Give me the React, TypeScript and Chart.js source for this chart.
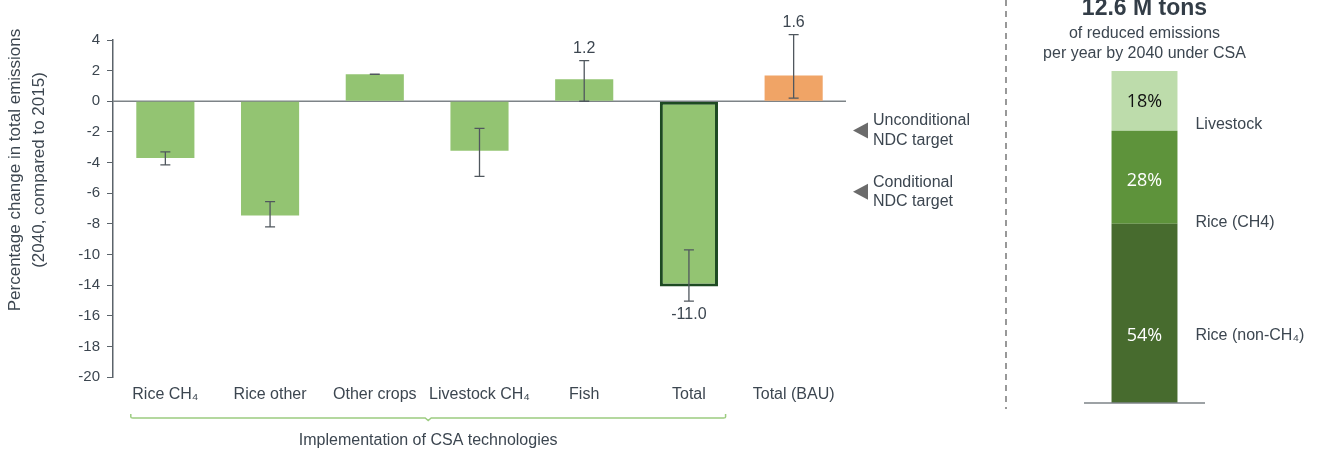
import React, { useEffect, useRef } from 'react';
import { Chart, registerables } from 'chart.js';

Chart.register(...registerables);

// ---------- data ----------
const categories = ['Rice CH₄', 'Rice other', 'Other crops', 'Livestock CH₄', 'Fish', 'Total', 'Total (BAU)'];
const values = [-3.7, -7.45, 1.77, -3.23, 1.43, -12.1, 1.69];
const errorHigh = [-3.3, -6.55, 1.77, -1.77, 2.65, -9.7, 4.35];
const errorLow = [-4.15, -8.2, 1.75, -4.9, 0.0, -13.05, 0.2];
const valueLabels = ['', '', '', '', '1.2', '-11.0', '1.6'];
const yTickLabels = ['-20', '-18', '-16', '-14', '-10', '-8', '-6', '-4', '-2', '0', '2', '4'];
const ndcTargetValues = [-1.9, -5.9];
const ndcTargetLabels = [['Unconditional', 'NDC target'], ['Conditional', 'NDC target']];
const bracketLabel = 'Implementation of CSA technologies';
const bracketFirst = 0;
const bracketLast = 5;
const yAxisTitle = ['Percentage change in total emissions', '(2040, compared to 2015)'];

const shareSegments = ['Rice (non-CH₄)', 'Rice (CH4)', 'Livestock'];
const shareValues = [54, 28, 18];
const shareTitle = '12.6 M tons';
const shareSubtitle = ['of reduced emissions', 'per year by 2040 under CSA'];

// ---------- styles ----------
const FONT = '"Liberation Sans", Arial, Helvetica, sans-serif';
const TEXT = '#3c4650';
const AXIS = '#5b636a';
const GREEN = '#93c472';
const ORANGE = '#f0a466';
const TOTAL_BORDER = '#1d4a22';
const ERR = '#50575e';
const shareColors = ['#476b2e', '#5e933b', '#bddcab'];
const shareTextColors = ['#ffffff', '#ffffff', '#111111'];
const pctPos = [0.625, 0.54, 0.51];
const namePos = [0.625, 0.99, 0.9];

export default function App() {
  const leftRef = useRef<HTMLCanvasElement | null>(null);
  const rightRef = useRef<HTMLCanvasElement | null>(null);

  useEffect(() => {
    if (!leftRef.current || !rightRef.current) return;

    const leftPlugin = {
      id: 'leftDecor',
      beforeDatasetsDraw(chart: any) {
        const { ctx, chartArea, scales } = chart;
        const y0 = scales.y.getPixelForValue(0);
        ctx.save();
        ctx.strokeStyle = '#7d8387';
        ctx.lineWidth = 1.5;
        ctx.beginPath();
        ctx.moveTo(chartArea.left, y0);
        ctx.lineTo(chartArea.right, y0);
        ctx.stroke();
        ctx.restore();
      },
      afterDatasetsDraw(chart: any) {
        const { ctx, chartArea, scales } = chart;
        const ys = scales.y;
        const xs = scales.x;
        const meta = chart.getDatasetMeta(0);
        ctx.save();
        // error bars
        ctx.strokeStyle = ERR;
        ctx.lineWidth = 1.3;
        meta.data.forEach((bar: any, i: number) => {
          const x = bar.x;
          const yh = ys.getPixelForValue(errorHigh[i]);
          const yl = ys.getPixelForValue(errorLow[i]);
          ctx.beginPath();
          ctx.moveTo(x, yh);
          ctx.lineTo(x, yl);
          ctx.moveTo(x - 5, yh);
          ctx.lineTo(x + 5, yh);
          ctx.moveTo(x - 5, yl);
          ctx.lineTo(x + 5, yl);
          ctx.stroke();
        });
        // value labels
        ctx.fillStyle = TEXT;
        ctx.font = `16px ${FONT}`;
        ctx.textAlign = 'center';
        ctx.textBaseline = 'middle';
        meta.data.forEach((bar: any, i: number) => {
          if (!valueLabels[i]) return;
          if (values[i] >= 0) {
            ctx.fillText(valueLabels[i], bar.x, ys.getPixelForValue(errorHigh[i]) - 12);
          } else {
            ctx.fillText(valueLabels[i], bar.x, ys.getPixelForValue(errorLow[i]) + 13);
          }
        });
        // NDC targets
        ndcTargetValues.forEach((v, i) => {
          const y = ys.getPixelForValue(v);
          const tx = chartArea.right + 7;
          ctx.fillStyle = '#6b6b6b';
          ctx.beginPath();
          ctx.moveTo(tx + 15, y - 8);
          ctx.lineTo(tx + 15, y + 8);
          ctx.lineTo(tx, y);
          ctx.closePath();
          ctx.fill();
          ctx.fillStyle = TEXT;
          ctx.textAlign = 'left';
          ctx.fillText(ndcTargetLabels[i][0], tx + 20, y - 9.5);
          ctx.fillText(ndcTargetLabels[i][1], tx + 20, y + 10);
        });
        // bracket
        const cw = xs.getPixelForValue(1) - xs.getPixelForValue(0);
        const bl = xs.getPixelForValue(bracketFirst) - cw * 0.33;
        const br = xs.getPixelForValue(bracketLast) + cw * 0.35;
        const bm = (bl + br) / 2;
        const by = chartArea.bottom + 41;
        ctx.strokeStyle = '#9ccc80';
        ctx.lineWidth = 1.5;
        ctx.beginPath();
        ctx.moveTo(bl, by - 4);
        ctx.lineTo(bl, by - 1);
        ctx.quadraticCurveTo(bl, by, bl + 2, by);
        ctx.lineTo(bm - 3, by);
        ctx.lineTo(bm, by + 2.5);
        ctx.lineTo(bm + 3, by);
        ctx.lineTo(br - 2, by);
        ctx.quadraticCurveTo(br, by, br, by - 1);
        ctx.lineTo(br, by - 4);
        ctx.stroke();
        ctx.fillStyle = TEXT;
        ctx.textAlign = 'center';
        ctx.fillText(bracketLabel, bm, by + 23);
        // y axis title
        ctx.font = `17px ${FONT}`;
        ctx.translate(15, 170);
        ctx.rotate(-Math.PI / 2);
        ctx.fillText(yAxisTitle[0], 0, 0);
        ctx.fillText(yAxisTitle[1], 0, 24);
        ctx.setTransform(1, 0, 0, 1, 0, 0);
        // divider
        ctx.strokeStyle = '#555555';
        ctx.lineWidth = 1.2;
        ctx.setLineDash([6, 5]);
        ctx.beginPath();
        ctx.moveTo(1006, 0);
        ctx.lineTo(1006, 409);
        ctx.stroke();
        ctx.restore();
      },
    };

    const left = new Chart(leftRef.current, {
      type: 'bar',
      data: {
        labels: categories,
        datasets: [
          {
            data: values,
            backgroundColor: values.map((_, i) => (i === categories.length - 1 ? ORANGE : GREEN)),
            borderColor: values.map((_, i) => (i === 5 ? TOTAL_BORDER : 'rgba(0,0,0,0)')),
            borderWidth: values.map((_, i) => (i === 5 ? 3 : 0)),
            borderSkipped: false,
            categoryPercentage: 1,
            barPercentage: 0.555,
          },
        ],
      },
      options: {
        animation: false,
        responsive: false,
        maintainAspectRatio: false,
        layout: { padding: { left: 53, right: 164, top: 40, bottom: 41 } },
        plugins: { legend: { display: false }, tooltip: { enabled: false } },
        scales: {
          x: {
            grid: { display: false, drawTicks: false },
            border: { display: false },
            ticks: {
              color: TEXT,
              font: { family: FONT, size: 16 },
              padding: 8,
              maxRotation: 0,
              autoSkip: false,
            },
            afterFit: (s: any) => {
              s.height = 40;
            },
          },
          y: {
            min: -18,
            max: 4,
            ticks: {
              stepSize: 2,
              callback: (_v: any, i: number) => yTickLabels[i],
              color: TEXT,
              font: { family: FONT, size: 15 },
              padding: 7,
            },
            grid: { drawOnChartArea: false, drawTicks: true, tickLength: 6, color: AXIS, lineWidth: 1 },
            border: { display: true, color: AXIS, width: 1.5 },
            afterFit: (s: any) => {
              s.width = 60;
            },
          },
        },
      } as any,
      plugins: [leftPlugin],
    });

    const rightPlugin = {
      id: 'rightDecor',
      afterDatasetsDraw(chart: any) {
        const { ctx, chartArea } = chart;
        ctx.save();
        // base line
        ctx.strokeStyle = '#7d8387';
        ctx.lineWidth = 1.5;
        ctx.beginPath();
        ctx.moveTo(chartArea.left, chartArea.bottom);
        ctx.lineTo(chartArea.right, chartArea.bottom);
        ctx.stroke();
        let cx = 0;
        shareSegments.forEach((name, i) => {
          const el = chart.getDatasetMeta(i).data[0];
          const top = Math.min(el.y, el.base);
          const bot = Math.max(el.y, el.base);
          const h = bot - top;
          cx = el.x;
          ctx.textBaseline = 'middle';
          ctx.textAlign = 'center';
          ctx.fillStyle = shareTextColors[i];
          ctx.font = `18px "Open Sans", Lato, sans-serif`;
          ctx.fillText(`${shareValues[i]}%`, el.x, top + h * pctPos[i]);
          ctx.textAlign = 'left';
          ctx.fillStyle = TEXT;
          ctx.font = `16px ${FONT}`;
          ctx.fillText(name, el.x + el.width / 2 + 18, top + h * namePos[i]);
        });
        // title
        ctx.textAlign = 'center';
        ctx.textBaseline = 'alphabetic';
        ctx.fillStyle = '#333d47';
        ctx.font = `bold 23px ${FONT}`;
        ctx.fillText(shareTitle, cx, 15);
        ctx.fillStyle = TEXT;
        ctx.font = `16px ${FONT}`;
        ctx.textBaseline = 'middle';
        ctx.fillText(shareSubtitle[0], cx, 34);
        ctx.fillText(shareSubtitle[1], cx, 54);
        ctx.restore();
      },
    };

    const right = new Chart(rightRef.current, {
      type: 'bar',
      data: {
        labels: [''],
        datasets: shareSegments.map((name, i) => ({
          label: name,
          data: [shareValues[i]],
          backgroundColor: shareColors[i],
          borderWidth: 0,
          stack: 's',
          categoryPercentage: 1,
          barPercentage: 0.545,
        })),
      },
      options: {
        animation: false,
        responsive: false,
        maintainAspectRatio: false,
        layout: { padding: { left: 74, right: 115, top: 71, bottom: 55 } },
        plugins: { legend: { display: false }, tooltip: { enabled: false } },
        scales: {
          x: { display: false, stacked: true },
          y: { display: false, stacked: true, min: 0, max: 100 },
        },
      } as any,
      plugins: [rightPlugin],
    });

    return () => {
      left.destroy();
      right.destroy();
    };
  }, []);

  return (
    <div style={{ position: 'absolute', left: 0, top: 0, width: 1320, height: 458, background: '#ffffff' }}>
      <canvas
        ref={leftRef}
        width={1010}
        height={458}
        style={{ position: 'absolute', left: 0, top: 0, width: 1010, height: 458 }}
      />
      <canvas
        ref={rightRef}
        width={310}
        height={458}
        style={{ position: 'absolute', left: 1010, top: 0, width: 310, height: 458 }}
      />
    </div>
  );
}
